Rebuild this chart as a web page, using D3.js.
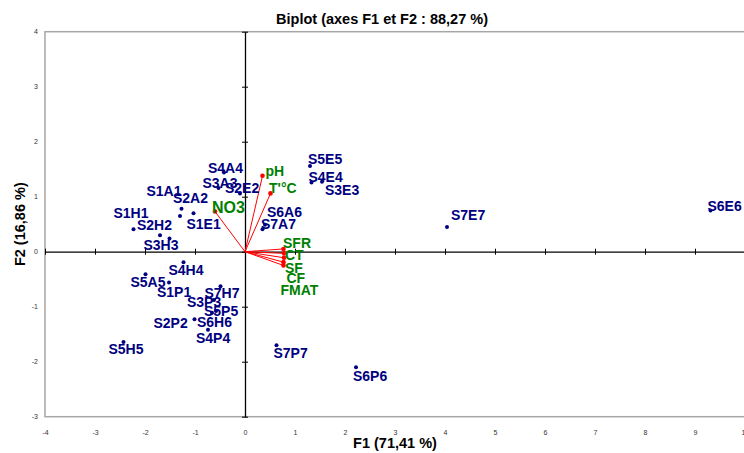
<!DOCTYPE html>
<html>
<head>
<meta charset="utf-8">
<script src="https://cdn.jsdelivr.net/npm/d3@7"></script>
<style>
  body { margin: 0; background: #fff; }
  svg { font-family: "Liberation Sans", Arial, sans-serif; }
  .obs { fill: #000080; font-weight: bold; font-size: 14px; }
  .var { fill: #008000; font-weight: bold; font-size: 14px; }
  .tick text { font-size: 7px; fill: #333; }
</style>
</head>
<body>
<svg id="chart" width="744" height="453"></svg>
<script>
// observations (F1, F2)
var obsNames = ["S1A1", "S2A2", "S3A3", "S4A4", "S5A5", "S6A6", "S7A7",
                "S1E1", "S2E2", "S3E3", "S4E4", "S5E5", "S6E6", "S7E7",
                "S1H1", "S2H2", "S3H3", "S4H4", "S5H5", "S6H6", "S7H7",
                "S1P1", "S2P2", "S3P3", "S4P4", "S5P5", "S6P6", "S7P7"];
var obsF1 = [-1.27, -1.30, -0.53, -0.42, -1.99, 0.40, 0.35,
             -1.03, -0.10, 1.54, 1.33, 1.30, 9.31, 4.04,
             -2.23, -1.70, -1.51, -1.23, -2.43, -0.66, -0.49,
             -1.52, -1.01, -0.62, -0.74, -0.58, 2.22, 0.63];
var obsF2 = [0.78, 0.65, 1.16, 1.44, -0.41, 0.49, 0.41,
             0.70, 1.06, 1.27, 1.26, 1.56, 0.75, 0.45,
             0.41, 0.30, 0.24, -0.19, -1.64, -1.11, -0.63,
             -0.56, -1.23, -0.88, -1.42, -1.08, -2.10, -1.70];

// variables (F1, F2)
var varNames = ["NO3", "pH", "T'°C", "SFR", "CT", "SF", "CF", "FMAT"];
var varF1 = [-0.60, 0.35, 0.51, 0.77, 0.78, 0.78, 0.77, 0.77];
var varF2 = [0.73, 1.38, 1.06, 0.05, -0.03, -0.11, -0.19, -0.25];

var xTicks = d3.range(-4, 11);
var yTicks = d3.range(-3, 5);

// label placement (offset from the point, in px)
var labelNudge = {
  S1A1: [-35, -13], S2A2: [-7, -13], S3A3: [-16, 0], S4A4: [-16, 0], S5A5: [-15, 13],
  S6A6: [2, -7.5], S7A7: [-1.5, 0], S1E1: [-7, 16], S2E2: [-15, 0], S3E3: [3, 13],
  S4E4: [-3, 0], S5E5: [-2, -2], S6E6: [-3, 1], S7E7: [4, -7], S1H1: [-20, -11],
  S2H2: [-23, -5], S3H3: [-26, 11.5], S4H4: [-15, 13], S5H5: [-15, 12], S6H6: [-15, 14],
  S7H7: [-16, 11.5], S1P1: [-12, 14], S2P2: [-41, 8.5], S3P3: [-27, 7], S4P4: [-12, 13],
  S5P5: [-12, 5], S6P6: [-3, 14], S7P7: [-3, 13],
  "NO3": [-3, 1], "pH": [3, 0.5], "T'°C": [-1.5, 0], "SFR": [-0.5, -1], "CT": [1, 7],
  "SF": [1, 15], "CF": [3, 21], "FMAT": [-3, 30]
};

var svg = d3.select("#chart");
var plot = {left: 45, right: 745, top: 31.7, bottom: 416.7};

var x = d3.scaleLinear().domain([-4, 10]).range([plot.left, plot.right]);
var y = d3.scaleLinear().domain([-3, 4]).range([plot.bottom, plot.top]);
var fmt = function (d) { return String(d); };

// frame
svg.append("rect")
  .attr("x", plot.left).attr("y", plot.top)
  .attr("width", plot.right - plot.left).attr("height", plot.bottom - plot.top)
  .attr("fill", "none").attr("stroke", "#a6a6a6").attr("stroke-width", 1.5);

// tick labels on the frame
svg.append("g")
  .attr("transform", "translate(0," + (plot.bottom + 13) + ")")
  .call(d3.axisBottom(x).tickValues(xTicks).tickSize(0).tickPadding(0).tickFormat(fmt))
  .call(function (g) { g.select(".domain").remove(); });

svg.append("g")
  .attr("transform", "translate(" + (plot.left - 7) + ",0)")
  .call(d3.axisLeft(y).tickValues(yTicks).tickSize(0).tickPadding(0).tickFormat(fmt))
  .call(function (g) { g.select(".domain").remove(); });

// central axes with crossing ticks
var xAxisG = svg.append("g")
  .attr("transform", "translate(0," + y(0) + ")")
  .call(d3.axisBottom(x).tickValues(xTicks).tickSize(3).tickSizeOuter(0).tickFormat(""));
xAxisG.selectAll(".tick line").attr("y1", -3).attr("y2", 3).attr("stroke", "#000");
xAxisG.select(".domain").attr("stroke", "#000").attr("stroke-width", 1.3);

var yAxisG = svg.append("g")
  .attr("transform", "translate(" + x(0) + ",0)")
  .call(d3.axisLeft(y).tickValues(yTicks).tickSize(3).tickSizeOuter(0).tickFormat(""));
yAxisG.selectAll(".tick line").attr("x1", -3).attr("x2", 3).attr("stroke", "#000");
yAxisG.select(".domain").attr("stroke", "#000").attr("stroke-width", 1.3);

// variable vectors
var vars = varNames.map(function (n, i) { return {name: n, f1: varF1[i], f2: varF2[i]}; });
var vg = svg.append("g");
vg.selectAll("line").data(vars).join("line")
  .attr("x1", x(0)).attr("y1", y(0))
  .attr("x2", function (d) { return x(d.f1); })
  .attr("y2", function (d) { return y(d.f2); })
  .attr("stroke", "#ff0000").attr("stroke-width", 1);
vg.selectAll("circle").data(vars).join("circle")
  .attr("cx", function (d) { return x(d.f1); })
  .attr("cy", function (d) { return y(d.f2); })
  .attr("r", 2.3).attr("fill", "#ff0000");

// observations
var obs = obsNames.map(function (n, i) { return {name: n, f1: obsF1[i], f2: obsF2[i]}; });
svg.append("g").selectAll("circle").data(obs).join("circle")
  .attr("cx", function (d) { return x(d.f1); })
  .attr("cy", function (d) { return y(d.f2); })
  .attr("r", 2).attr("fill", "#000080");

svg.append("g").selectAll("text").data(obs).join("text")
  .attr("class", "obs")
  .attr("x", function (d) { return x(d.f1) + labelNudge[d.name][0]; })
  .attr("y", function (d) { return y(d.f2) + labelNudge[d.name][1]; })
  .text(function (d) { return d.name; });

svg.append("g").selectAll("text").data(vars).join("text")
  .attr("class", "var")
  .style("font-size", function (d) { return d.name == "NO3" ? "16px" : null; })
  .attr("x", function (d) { return x(d.f1) + labelNudge[d.name][0]; })
  .attr("y", function (d) { return y(d.f2) + labelNudge[d.name][1]; })
  .text(function (d) { return d.name; });

// titles
svg.append("text")
  .attr("x", 382).attr("y", 24)
  .attr("text-anchor", "middle")
  .style("font-size", "14.5px").style("font-weight", "bold")
  .text("Biplot (axes F1 et F2 : 88,27 %)");

svg.append("text")
  .attr("x", (plot.left + plot.right) / 2).attr("y", 448)
  .attr("text-anchor", "middle")
  .style("font-size", "14.5px").style("font-weight", "bold")
  .text("F1 (71,41 %)");

svg.append("text")
  .attr("transform", "translate(25," + ((plot.top + plot.bottom) / 2) + ") rotate(-90)")
  .attr("text-anchor", "middle")
  .style("font-size", "14.5px").style("font-weight", "bold")
  .text("F2 (16,86 %)");
</script>
</body>
</html>
